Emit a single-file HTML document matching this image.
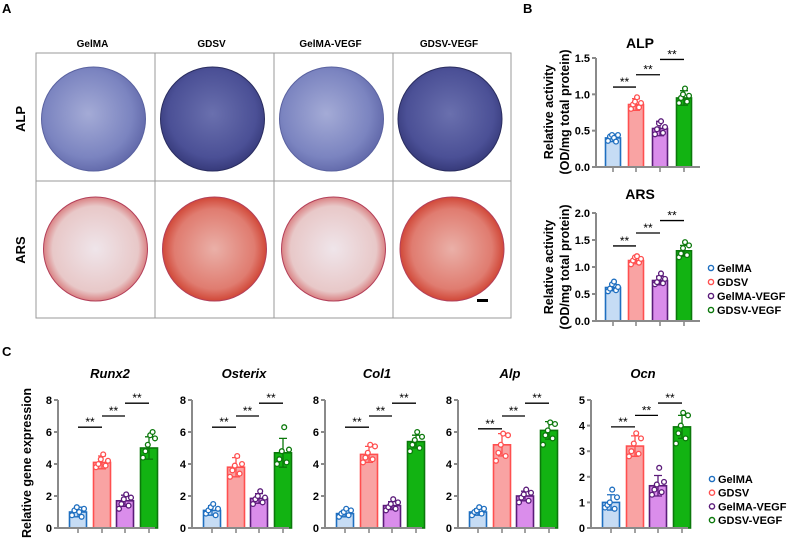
<!DOCTYPE html>
<html><head><meta charset="utf-8"><style>
body{margin:0;background:#fff}
svg{display:block;font-family:"Liberation Sans",Arial,sans-serif}
</style></head><body>
<svg id="fig" width="789" height="544" viewBox="0 0 789 544" xmlns="http://www.w3.org/2000/svg">
<defs>
<radialGradient id="alpL" cx="0.45" cy="0.45" r="0.6"><stop offset="0" stop-color="#a4abd6"/><stop offset="0.7" stop-color="#7b84c0"/><stop offset="1" stop-color="#5d64a6"/></radialGradient>
<radialGradient id="alpD" cx="0.5" cy="0.45" r="0.6"><stop offset="0" stop-color="#6a70ae"/><stop offset="0.7" stop-color="#4b5096"/><stop offset="1" stop-color="#2f3270"/></radialGradient>
<radialGradient id="arsL" cx="0.5" cy="0.5" r="0.55"><stop offset="0" stop-color="#efe5ea"/><stop offset="0.75" stop-color="#e8c8c8"/><stop offset="0.93" stop-color="#d8787a"/><stop offset="1" stop-color="#b04050"/></radialGradient>
<radialGradient id="arsD" cx="0.5" cy="0.5" r="0.55"><stop offset="0" stop-color="#eab0a8"/><stop offset="0.7" stop-color="#e07c70"/><stop offset="0.92" stop-color="#d04535"/><stop offset="1" stop-color="#b82a28"/></radialGradient>
</defs>
<g id="panelA"></g>
<g id="charts"></g>
</svg>
<script>
const NS='http://www.w3.org/2000/svg';
const groups=['GelMA','GDSV','GelMA-VEGF','GDSV-VEGF'];
const fills=['#c6dcf4','#f9a3a3','#da8deb','#12b312'];
const strokes=['#1f6fc0','#ff4f4f','#5b1b7a','#0b780b'];

// Panel B data
const alpMeans=[0.40,0.86,0.53,0.95];
const alpSds=[0.05,0.08,0.10,0.10];
const alpPts=[[0.36,0.42,0.44,0.40,0.35,0.44],[0.80,0.86,0.90,0.96,0.82,0.88],[0.45,0.52,0.60,0.63,0.47,0.55],[0.88,0.95,1.00,1.08,0.90,0.98]];
const arsMeans=[0.62,1.12,0.75,1.30];
const arsSds=[0.06,0.06,0.08,0.10];
const arsPts=[[0.55,0.60,0.68,0.73,0.57,0.63],[1.05,1.12,1.18,1.20,1.08,1.15],[0.68,0.72,0.80,0.88,0.70,0.78],[1.18,1.25,1.35,1.46,1.22,1.40]];
// Panel C data
const runx2Means=[1.0,4.1,1.7,5.0];
const runx2Sds=[0.3,0.4,0.35,0.7];
const runx2Pts=[[0.8,1.1,1.3,1.0,0.7,1.2],[3.8,4.0,4.3,4.6,3.9,4.2],[1.2,1.5,1.8,2.1,1.4,1.9],[4.4,4.8,5.2,5.8,6.0,5.6]];
const osxMeans=[1.1,3.8,1.85,4.7];
const osxSds=[0.3,0.6,0.3,0.9];
const osxPts=[[0.9,1.1,1.3,1.5,0.8,1.2],[3.2,3.6,3.9,4.5,3.4,4.0],[1.5,1.8,2.0,2.3,1.6,1.9],[4.0,4.3,4.8,6.3,4.1,4.9]];
const col1Means=[0.9,4.6,1.4,5.4];
const col1Sds=[0.2,0.5,0.25,0.4];
const col1Pts=[[0.7,0.9,1.0,1.2,0.8,1.1],[4.1,4.4,4.7,5.2,4.3,5.1],[1.1,1.3,1.5,1.8,1.2,1.6],[4.8,5.2,5.5,6.0,5.0,5.7]];
const alpGMeans=[1.0,5.2,2.0,6.1];
const alpGSds=[0.2,0.7,0.3,0.55];
const alpGPts=[[0.8,1.0,1.1,1.3,0.9,1.2],[4.2,4.7,5.2,5.9,4.5,5.8],[1.6,1.9,2.1,2.4,1.7,2.2],[5.2,5.8,6.1,6.6,5.6,6.5]];
const ocnMeans=[1.0,3.2,1.65,3.95];
const ocnSds=[0.3,0.4,0.4,0.45];
const ocnPts=[[0.8,0.9,1.0,1.5,0.75,1.2],[2.8,3.0,3.3,3.7,2.9,3.5],[1.3,1.5,1.7,2.35,1.4,1.8],[3.3,3.7,4.0,4.5,3.5,4.4]];
const cTicks8=[0,2,4,6,8];
const cTicks5=[0,1,2,3,4,5];
const alpTicks=[0.0,0.5,1.0,1.5];
const arsTicks=[0.0,0.5,1.0,1.5,2.0];

function el(tag,attrs,parent,text){const e=document.createElementNS(NS,tag);for(const k in attrs)e.setAttribute(k,attrs[k]);if(text!==undefined)e.textContent=text;(parent||document.getElementById('charts')).appendChild(e);return e;}

// Panel A
const A=document.getElementById('panelA');
let t=el('text',{x:2,y:13,'font-size':13,'font-weight':'bold'},A,'A');

const cols=[36,155,274,393,511];
for(let i=0;i<4;i++){
  t=el('text',{x:(cols[i]+cols[i+1])/2-3,y:47,'font-size':10,'font-weight':'bold','text-anchor':'middle'},A,groups[i]);
  
  const dark=(i%2==1);
  let c=el('circle',{cx:(cols[i]+cols[i+1])/2-2,cy:119,r:52,fill:dark?'url(#alpD)':'url(#alpL)',stroke:dark?'#2a2d60':'#5a62a0','stroke-width':1},A);
  
  c=el('circle',{cx:(cols[i]+cols[i+1])/2,cy:249,r:52,fill:dark?'url(#arsD)':'url(#arsL)',stroke:'#b3405a','stroke-width':1},A);
  
}
let g=el('path',{d:'M36 53H511V318H36Z M36 181H511 M155 53V318 M274 53V318 M393 53V318',fill:'none',stroke:'#9a9a9a','stroke-width':1},A);

t=el('text',{transform:'translate(25,119) rotate(-90)','font-size':13,'font-weight':'bold','text-anchor':'middle'},A,'ALP');

t=el('text',{transform:'translate(25,250) rotate(-90)','font-size':13,'font-weight':'bold','text-anchor':'middle'},A,'ARS');

g=el('rect',{x:477,y:299,width:11,height:3,fill:'#000'},A);


function chart(o){
  const G=el('g',{});
  
  
  const ymax=o.ticks[o.ticks.length-1];
  const Y=v=>o.y0-(v/ymax)*(o.y0-o.yTop);
  const X=i=>o.ax+o.offs[i];
  let tt=el('text',{x:o.ax+o.titleDx,y:o.titleY,'font-size':o.tfs,'font-weight':'bold','font-style':o.italic?'italic':'normal','text-anchor':'middle'},G,o.title);
  
  for(let i=0;i<4;i++){
    const r=el('rect',{x:X(i)-o.bw/2,y:Y(o.means[i]),width:o.bw,height:o.y0-Y(o.means[i]),fill:fills[i],stroke:strokes[i],'stroke-width':1.6},G);
    
    const eb=el('path',{d:`M${X(i)} ${Y(o.means[i]-o.sds[i])}V${Y(o.means[i]+o.sds[i])}M${X(i)-4} ${Y(o.means[i]+o.sds[i])}H${X(i)+4}M${X(i)-4} ${Y(o.means[i]-o.sds[i])}H${X(i)+4}`,stroke:strokes[i],'stroke-width':1.3,fill:'none'},G);
    
    const n=o.pts[i].length;
    o.pts[i].forEach((v,j)=>{
      const dx=(j-(n-1)/2)*(o.bw-5)/(n-1);
      const c=el('circle',{cx:X(i)+dx,cy:Y(v),r:2.4,fill:'#fff',stroke:strokes[i],'stroke-width':1.3},G);
      
    });
  }
  const axis=el('path',{d:`M${o.ax} ${o.yTop}V${o.y0}H${o.ax+o.axLen}`,stroke:'#8a8a8a','stroke-width':2,fill:'none'},G);
  
  o.ticks.forEach(v=>{
    const tk=el('path',{d:`M${o.ax-4} ${Y(v)}H${o.ax}`,stroke:'#8a8a8a','stroke-width':2},G);
    
    const lb=el('text',{x:o.ax-6,y:Y(v)+4,'font-size':11,'font-weight':'bold','text-anchor':'end'},G,o.dec?v.toFixed(1):String(v));
    
  });
  for(let i=0;i<4;i++){
    const tk=el('path',{d:`M${X(i)} ${o.y0}V${o.y0+5}`,stroke:'#8a8a8a','stroke-width':1.6},G);
    
  }
  o.sig.forEach((v,k)=>{
    const y=Y(v);
    const ln=el('path',{d:`M${X(k)} ${y}H${X(k+1)}`,stroke:'#000','stroke-width':1.3},G);
    
    const st=el('text',{x:(X(k)+X(k+1))/2,y:y-1,'font-size':12,'text-anchor':'middle'},G,'**');
    
  });
}

const bOffs=[17,40,64,88], cOffs=[20,44,67,91];
chart({name:'alp-activity-chart',ax:596,y0:167,yTop:58,ticks:alpTicks,dec:true,means:alpMeans,sds:alpSds,pts:alpPts,offs:bOffs,bw:15,axLen:104,title:'ALP',titleDx:44,titleY:48,tfs:14,italic:false,sig:[1.10,1.27,1.48]});
chart({name:'ars-activity-chart',ax:596,y0:321,yTop:213,ticks:arsTicks,dec:true,means:arsMeans,sds:arsSds,pts:arsPts,offs:bOffs,bw:15,axLen:104,title:'ARS',titleDx:44,titleY:199,tfs:14,italic:false,sig:[1.39,1.63,1.86]});
const cAx=[58,192,325,458,591];
const cSets=[['Runx2',runx2Means,runx2Sds,runx2Pts,cTicks8,[6.3,7.0,7.8]],['Osterix',osxMeans,osxSds,osxPts,cTicks8,[6.3,7.0,7.8]],['Col1',col1Means,col1Sds,col1Pts,cTicks8,[6.3,7.0,7.8]],['Alp',alpGMeans,alpGSds,alpGPts,cTicks8,[6.2,7.0,7.8]],['Ocn',ocnMeans,ocnSds,ocnPts,cTicks5,[3.95,4.4,4.88]]];
cSets.forEach((s,k)=>chart({name:'gene-chart-'+s[0].toLowerCase(),ax:cAx[k],y0:528,yTop:400,ticks:s[4],dec:false,means:s[1],sds:s[2],pts:s[3],offs:cOffs,bw:17,axLen:97,title:s[0],titleDx:52,titleY:378,tfs:13,italic:true,sig:s[5]}));

const C=document.getElementById('charts');
function label(txt,attrs,name){const e=el('text',attrs,C,txt);return e;}
label('B',{x:523,y:13,'font-size':13,'font-weight':'bold'},'panel-b-label');
label('C',{x:2,y:356,'font-size':13,'font-weight':'bold'},'panel-c-label');
label('Relative activity',{transform:'translate(553,112) rotate(-90)','font-size':12.5,'font-weight':'bold','text-anchor':'middle'},'y-axis-title-alp');
label('(OD/mg total protein)',{transform:'translate(569,112) rotate(-90)','font-size':12.5,'font-weight':'bold','text-anchor':'middle'},'y-axis-title-alp-unit');
label('Relative activity',{transform:'translate(553,267) rotate(-90)','font-size':12.5,'font-weight':'bold','text-anchor':'middle'},'y-axis-title-ars');
label('(OD/mg total protein)',{transform:'translate(569,267) rotate(-90)','font-size':12.5,'font-weight':'bold','text-anchor':'middle'},'y-axis-title-ars-unit');
label('Relative gene expression',{transform:'translate(31,463) rotate(-90)','font-size':12.5,'font-weight':'bold','text-anchor':'middle'},'y-axis-title-gene');

function legend(x,y0,step,name){
  const G=el('g',{});
  groups.forEach((gname,i)=>{
    const c=el('circle',{cx:x,cy:y0+i*step,r:2.6,fill:'#fff',stroke:strokes[i],'stroke-width':1.4},G);
    
    const t=el('text',{x:x+6,y:y0+i*step+4,'font-size':11,'font-weight':'bold'},G,gname);
    
  });
}
legend(711,268,14,'legend-b');
legend(712,479,13.7,'legend-c');
</script>
</body></html>
